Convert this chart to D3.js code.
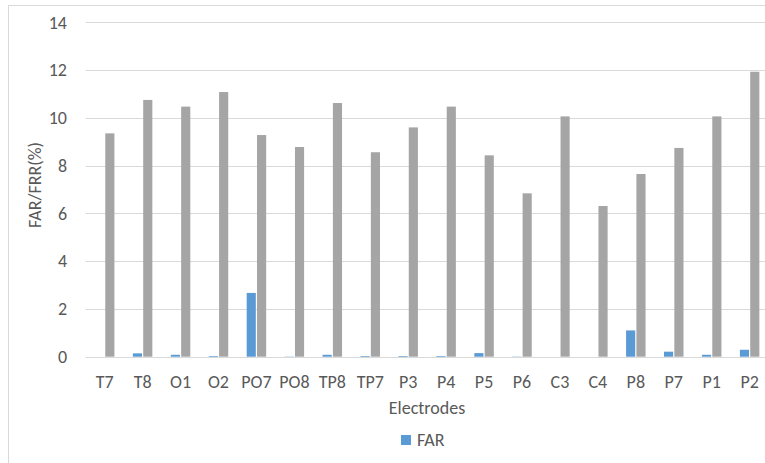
<!DOCTYPE html>
<html>
<head>
<meta charset="utf-8">
<script src="https://cdn.jsdelivr.net/npm/d3@7"></script>
<style>
  body { margin: 0; background: #fff; }
  text { font-family: Carlito, "Open Sans", "Liberation Sans", sans-serif; fill: #595959; }
</style>
</head>
<body>
<div id="chart"></div>
<script>
// data
var electrodes = ["T7", "T8", "O1", "O2", "PO7", "PO8", "TP8", "TP7", "P3", "P4", "P5", "P6", "C3", "C4", "P8", "P7", "P1", "P2"];
var far = [0, 0.14, 0.08, 0.03, 2.67, 0.01, 0.08, 0.03, 0.03, 0.03, 0.15, 0.01, 0, 0, 1.10, 0.21, 0.08, 0.29];
var frr = [9.35, 10.75, 10.47, 11.08, 9.28, 8.78, 10.62, 8.56, 9.60, 10.47, 8.43, 6.84, 10.06, 6.31, 7.65, 8.74, 10.06, 11.93];
var yTicks = [0, 2, 4, 6, 8, 10, 12, 14];

var width = 765, height = 463;
var margin = { top: 22.3, left: 85.7, bottom: 106.3, right: -3.6 };
var fontSize = '18px';

var svg = d3.select('#chart')
    .append('svg')
    .attr('width', width)
    .attr('height', height);

// chart area border (runs off the right and bottom edges)
svg.append('rect')
    .attr('x', 8.5).attr('y', 5.5)
    .attr('width', 800).attr('height', 500)
    .attr('fill', 'none')
    .attr('stroke', '#d9d9d9');

var x = d3.scaleBand()
    .domain(electrodes)
    .range([margin.left, width - margin.right])
    .padding(0);

var y = d3.scaleLinear()
    .domain([0, 14])
    .range([height - margin.bottom, margin.top]);

var groupW = x.bandwidth() * 0.545;
var x1 = d3.scaleBand()
    .domain(['FAR', 'FRR'])
    .range([(x.bandwidth() - groupW) / 2, (x.bandwidth() + groupW) / 2]);

// gridlines
svg.append('g')
    .selectAll('line')
    .data(yTicks)
    .enter()
    .append('line')
    .attr('x1', margin.left)
    .attr('x2', width)
    .attr('y1', function(d) { return Math.round(y(d)) + 0.5; })
    .attr('y2', function(d) { return Math.round(y(d)) + 0.5; })
    .attr('stroke', '#d9d9d9')
    .attr('stroke-width', 1);

// y tick labels
svg.append('g')
    .selectAll('text')
    .data(yTicks)
    .enter()
    .append('text')
    .attr('x', 67)
    .attr('y', function(d) { return y(d); })
    .attr('dy', '0.35em')
    .attr('text-anchor', 'end')
    .style('font-size', fontSize)
    .text(function(d) { return d; });

var series = [
    { name: 'FAR', values: far, color: '#5b9bd5' },
    { name: 'FRR', values: frr, color: '#a5a5a5' }
];

series.forEach(function(s) {
    svg.append('g')
        .selectAll('rect')
        .data(s.values)
        .enter()
        .append('rect')
        .attr('x', function(d, i) { return x(electrodes[i]) + x1(s.name) + 0.6; })
        .attr('width', x1.bandwidth() - 1.2)
        .attr('y', function(d) { return y(d); })
        .attr('height', function(d) { return y(0) - y(d); })
        .attr('fill', s.color);
});

// x tick labels
svg.append('g')
    .selectAll('text')
    .data(electrodes)
    .enter()
    .append('text')
    .attr('x', function(d) { return x(d) + x.bandwidth() / 2; })
    .attr('y', 382)
    .attr('dy', '0.35em')
    .attr('text-anchor', 'middle')
    .style('font-size', fontSize)
    .text(function(d) { return d; });

// axis titles
svg.append('text')
    .attr('x', 427)
    .attr('y', 408)
    .attr('dy', '0.35em')
    .attr('text-anchor', 'middle')
    .style('font-size', fontSize)
    .text('Electrodes');

svg.append('text')
    .attr('transform', 'translate(35,185) rotate(-90)')
    .attr('dy', '0.35em')
    .attr('text-anchor', 'middle')
    .style('font-size', fontSize)
    .text('FAR/FRR(%)');

// legend
var legend = svg.append('g').attr('transform', 'translate(401,440)');
legend.append('rect')
    .attr('x', 0).attr('y', -5)
    .attr('width', 10).attr('height', 10)
    .attr('fill', '#5b9bd5');
legend.append('text')
    .attr('x', 16)
    .attr('y', 0)
    .attr('dy', '0.35em')
    .style('font-size', fontSize)
    .text('FAR');
</script>
</body>
</html>
